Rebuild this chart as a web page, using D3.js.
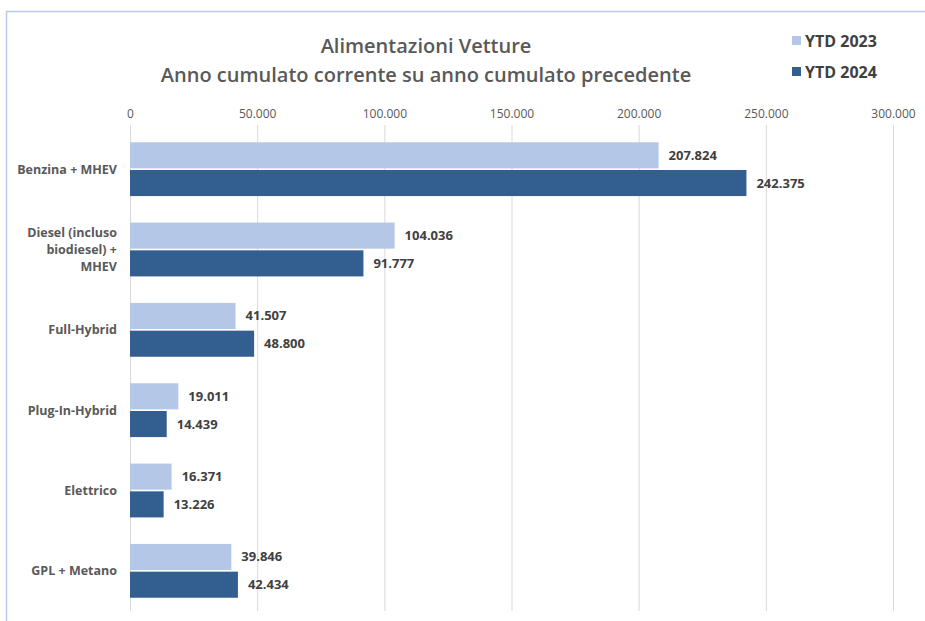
<!DOCTYPE html>
<html lang="it">
<head>
  <meta charset="UTF-8" />
  <title>Alimentazioni Vetture</title>
  <script src="https://d3js.org/d3.v7.min.js"></script>
  <style>
    body { margin: 0; background: #fff; }
    svg { display: block; font-family: "Liberation Sans Narrow", "Open Sans", sans-serif; }
  </style>
</head>
<body>
<svg id="chart" width="925" height="621"></svg>
<script>
const categories = ["Benzina + MHEV", "Diesel (incluso biodiesel) + MHEV", "Full-Hybrid", "Plug-In-Hybrid", "Elettrico", "GPL + Metano"];
const labelLines = [["Benzina + MHEV"], ["Diesel (incluso", "biodiesel) +", "MHEV"], ["Full-Hybrid"], ["Plug-In-Hybrid"], ["Elettrico"], ["GPL + Metano"]];
const seriesNames = ["YTD 2023", "YTD 2024"];
const ytd2023 = [207824, 104036, 41507, 19011, 16371, 39846];
const ytd2024 = [242375, 91777, 48800, 14439, 13226, 42434];
const tickValues = [0, 50000, 100000, 150000, 200000, 250000, 300000];
const colors = ["#b4c7e7", "#335e90"];

const svg = d3.select("#chart");
const fmt = d3.formatLocale({ decimal: ",", thousands: ".", grouping: [3], currency: ["", "€"] }).format(",d");

// frame
svg.append("path")
  .attr("d", "M6.5,621 V11.5 H925")
  .attr("fill", "none")
  .attr("stroke", "#b7cbe8")
  .attr("stroke-width", 1.5);

const x = d3.scaleLinear().domain([0, 300000]).range([130, 893]);
const y = d3.scaleBand().domain(categories).range([129, 611]).paddingInner(0.33).paddingOuter(0.165);
const ySub = d3.scaleBand().domain(seriesNames).range([0, y.bandwidth()]).paddingInner(0.06);

// grid
svg.append("g").selectAll("line").data(tickValues).join("line")
  .attr("x1", d => x(d) + 0.5).attr("x2", d => x(d) + 0.5)
  .attr("y1", 125).attr("y2", 611)
  .attr("stroke", "#d9d9d9").attr("stroke-width", 1);

// top axis labels
const axis = svg.append("g").attr("transform", "translate(0,118)")
  .call(d3.axisTop(x).tickValues(tickValues).tickFormat(fmt).tickSize(0).tickPadding(0));
axis.select(".domain").remove();
axis.selectAll("text").attr("fill", "#595959").style("font-size", "12px")
  .style("font-family", "\"Liberation Sans Narrow\", \"Open Sans\", sans-serif");

// bars
const rows = categories.map((c, i) => ({ cat: c, vals: [ytd2023[i], ytd2024[i]] }));
const grp = svg.append("g").selectAll("g").data(rows).join("g")
  .attr("transform", d => `translate(0,${y(d.cat)})`);

grp.selectAll("rect").data(d => d.vals.map((v, j) => ({ v, s: seriesNames[j], j }))).join("rect")
  .attr("x", x(0))
  .attr("y", d => ySub(d.s))
  .attr("width", d => x(d.v) - x(0))
  .attr("height", ySub.bandwidth())
  .attr("fill", d => colors[d.j]);

grp.selectAll("text.val").data(d => d.vals.map((v, j) => ({ v, s: seriesNames[j] }))).join("text")
  .attr("class", "val")
  .attr("x", d => x(d.v) + 10)
  .attr("y", d => ySub(d.s) + ySub.bandwidth() / 2)
  .attr("dy", "0.35em")
  .attr("fill", "#404040")
  .style("font-size", "13px")
  .style("font-weight", "bold")
  .style("font-family", "\"Open Sans\", sans-serif")
  .text(d => fmt(d.v));

// category labels
grp.each(function(d, i) {
  const lines = labelLines[i];
  const t = d3.select(this).append("text")
    .attr("text-anchor", "end")
    .attr("fill", "#595959")
    .style("font-size", "12.5px")
    .style("font-weight", "bold")
    .style("font-family", "\"Open Sans\", sans-serif");
  const lh = 17;
  const y0 = y.bandwidth() / 2 - (lines.length - 1) * lh / 2;
  lines.forEach((ln, k) => {
    t.append("tspan").attr("x", 117).attr("y", y0 + k * lh).attr("dy", "0.35em").text(ln);
  });
});

// title
const titleLines = ["Alimentazioni Vetture", "Anno cumulato corrente su anno cumulato precedente"];
svg.append("g").selectAll("text").data(titleLines).join("text")
  .attr("x", 426).attr("y", (d, i) => 53 + i * 29).attr("text-anchor", "middle")
  .attr("fill", "#595959").style("font-size", "20px").style("font-weight", "600")
  .style("font-family", "\"Open Sans\", sans-serif")
  .text(d => d);

// legend
const leg = svg.append("g").selectAll("g").data(seriesNames).join("g")
  .attr("transform", (d, i) => `translate(792,${41 + i * 31})`);
leg.append("rect").attr("x", 0).attr("y", -5).attr("width", 9).attr("height", 9)
  .attr("fill", (d, i) => colors[i]);
leg.append("text").attr("x", 13).attr("dy", "0.35em")
  .attr("fill", "#404040").style("font-size", "16px").style("font-weight", "bold")
  .style("font-family", "\"Open Sans\", sans-serif")
  .text(d => d);
</script>
</body>
</html>
